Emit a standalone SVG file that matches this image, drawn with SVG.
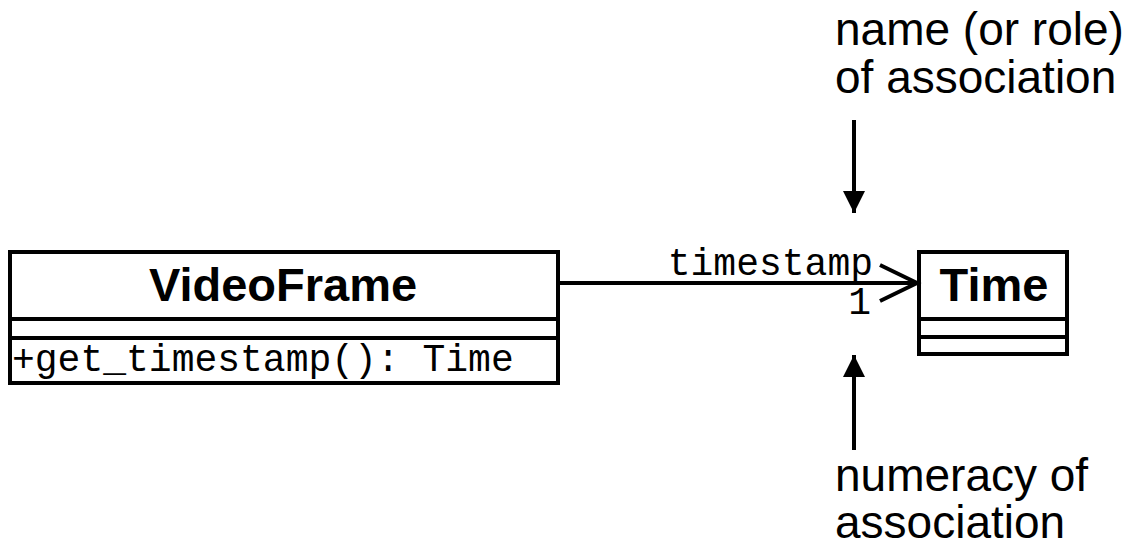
<svg xmlns="http://www.w3.org/2000/svg" width="1138" height="548" viewBox="0 0 1138 548">
<style>
.box{fill:#fff;stroke:#000;stroke-width:4}
.ln{stroke:#000;stroke-width:4;fill:none}
.title{font-family:"Liberation Sans",Arial,sans-serif;font-weight:bold;font-size:47px;text-anchor:middle}
.mono{font-family:"Liberation Mono","Courier New",monospace;font-size:38px}
.note{font-family:"Liberation Sans",Arial,sans-serif;font-size:46px}
</style>
<defs>
<marker id="fa" viewBox="0 0 10 10" refX="10" refY="5" markerWidth="5.5" markerHeight="5.5" markerUnits="strokeWidth" orient="auto">
<path d="M0,0 L10,5 L0,10 z" fill="#000"/>
</marker>
</defs>
<rect width="1138" height="548" fill="#fff"/>
<g id="videoframe">
<rect class="box" x="10" y="252" width="548" height="131"/>
<line class="ln" x1="10" y1="319" x2="558" y2="319"/>
<line class="ln" x1="10" y1="338" x2="558" y2="338"/>
<text class="title" x="283" y="301">VideoFrame</text>
<text class="mono" x="12" y="371">+get_timestamp(): Time</text>
</g>
<g id="time">
<rect class="box" x="919" y="252" width="148" height="102"/>
<line class="ln" x1="919" y1="319" x2="1067" y2="319"/>
<line class="ln" x1="919" y1="337" x2="1067" y2="337"/>
<text class="title" x="994" y="301">Time</text>
</g>
<g id="connectors">
<line class="ln" x1="558" y1="283" x2="917" y2="283"/>
<polyline class="ln" points="880,265 917,283 880,301"/>
<text class="mono" x="873" y="275" text-anchor="end">timestamp</text>
<text class="mono" x="871" y="314" text-anchor="end">1</text>
<line class="ln" x1="854" y1="120" x2="854" y2="213" marker-end="url(#fa)"/>
<line class="ln" x1="854" y1="450" x2="854" y2="355" marker-end="url(#fa)"/>
</g>
<g id="notes">
<text class="note" x="835" y="45">name (or role)</text>
<text class="note" x="835" y="93">of association</text>
<text class="note" x="835" y="491">numeracy of</text>
<text class="note" x="835" y="538">association</text>
</g>
</svg>
